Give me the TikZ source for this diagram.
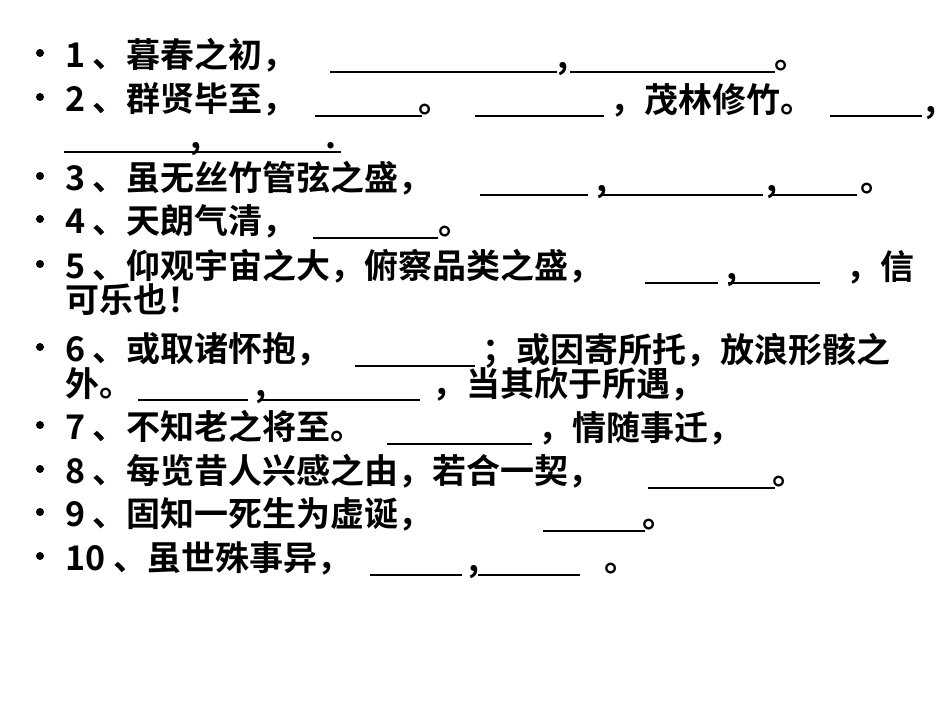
\documentclass[tikz,border=0pt]{standalone}
\usepackage{fontspec}
\setmainfont{Noto Sans CJK SC Bold}
\begin{document}
\begin{tikzpicture}[x=1pt,y=-1pt,
  t/.style={anchor=base west,inner sep=0pt,font=\fontsize{34}{36}\selectfont},
  ul/.style={line width=1.8pt},
  bul/.style={fill=black,circle,inner sep=0pt,minimum size=8pt}]
\useasboundingbox[fill=white] (0,0) rectangle (950,713);
\newcommand\myline[2]{\node[bul] at (40,#1-19) {}; \node[t] at (65,#1-5) {#2};}
% Line 1
\myline{72}{1 、暮春之初，}
\draw[ul] (330,72) -- (557,72); \node[t] at (557,68) {,};
\draw[ul] (570,72) -- (775,72); \node[t] at (774,68) {。};
% Line 2
\myline{116}{2 、群贤毕至，}
\draw[ul] (315,116) -- (422,116); \node[t] at (418,112) {。};
\draw[ul] (475,116) -- (604,116); \node[t] at (610,112) {，茂林修竹。};
\draw[ul] (830,116) -- (922,116); \node[t] at (925,112) {,};
% Line 2b
\draw[ul] (64,152) -- (341,152); \node[t] at (190,148) {,}; \node[t] at (325,148) {.};
% Line 3
\myline{195}{3 、虽无丝竹管弦之盛，}
\draw[ul] (480,195) -- (588,195); \node[t] at (596,191) {,};
\draw[ul] (600,195) -- (763,195); \node[t] at (766,191) {,};
\draw[ul] (770,195) -- (857,195); \node[t] at (860,191) {。};
% Line 4
\myline{238}{4 、天朗气清，}
\draw[ul] (313,238) -- (438,238); \node[t] at (438,234) {。};
% Line 5
\myline{283}{5 、仰观宇宙之大，俯察品类之盛，}
\draw[ul] (645,283) -- (718,283); \node[t] at (726,279) {,};
\draw[ul] (728,283) -- (820,283); \node[t] at (846,279) {，信};
\node[t] at (65,312) {可乐也！};
% Line 6
\myline{366}{6 、或取诸怀抱，}
\draw[ul] (355,366) -- (475,366); \node[t] at (482,362) {；或因寄所托，放浪形骸之};
\node[t] at (65,396) {外。};
\draw[ul] (138,400) -- (248,400); \node[t] at (255,396) {,};
\draw[ul] (260,400) -- (420,400); \node[t] at (432,396) {，当其欣于所遇，};
% Line 7
\myline{444}{7 、不知老之将至。}
\draw[ul] (387,444) -- (532,444); \node[t] at (538,440) {，情随事迁，};
% Line 8
\myline{488}{8 、每览昔人兴感之由，若合一契，}
\draw[ul] (648,488) -- (775,488); \node[t] at (772,484) {。};
% Line 9
\myline{531}{9 、固知一死生为虚诞，}
\draw[ul] (543,531) -- (645,531); \node[t] at (642,527) {。};
% Line 10
\myline{575}{10 、虽世殊事异，}
\draw[ul] (370,575) -- (462,575); \node[t] at (468,571) {,};
\draw[ul] (478,575) -- (580,575); \node[t] at (604,571) {。};
\end{tikzpicture}
\end{document}
